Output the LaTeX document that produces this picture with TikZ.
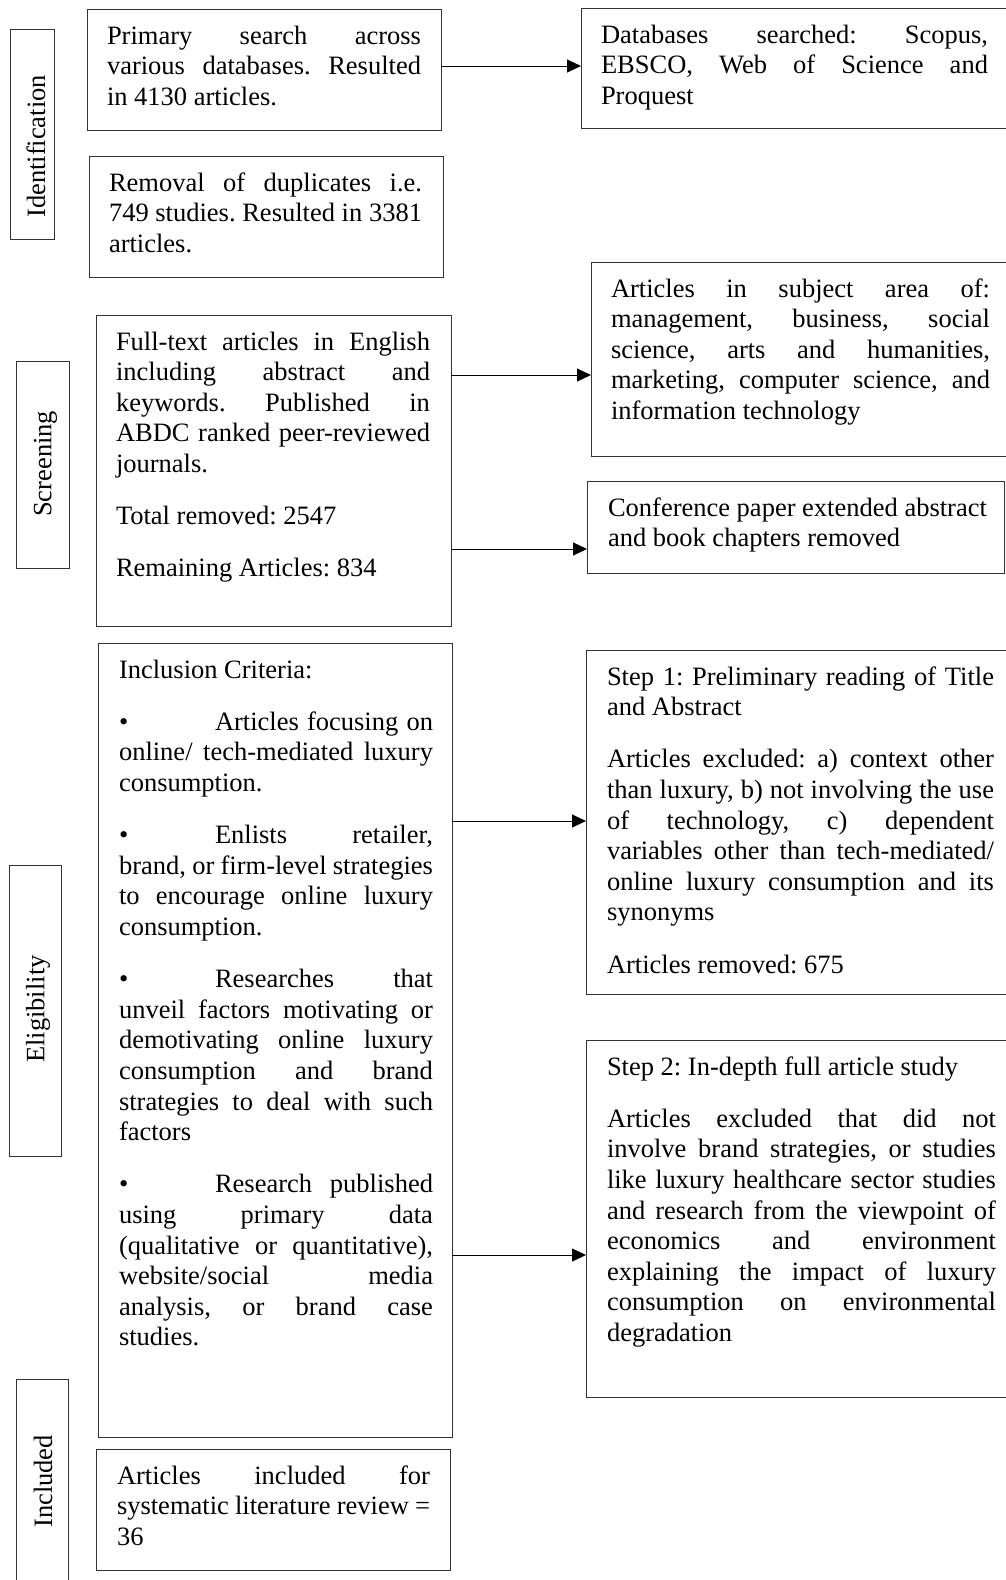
\documentclass[tikz,border=0pt]{standalone}
\usepackage{fontspec}
\setmainfont{Liberation Serif}
\usetikzlibrary{arrows.meta}

\newcommand\tf{\fontsize{26.5}{30.65}\selectfont\frenchspacing}
\newdimen\padx
\newdimen\tw
\newcommand\jl[1]{\moveright\padx\hbox to \tw{\frenchspacing\spaceskip=0pt plus 1fil\xspaceskip=0pt plus 1fil\relax #1}}
\newcommand\nl[1]{\moveright\padx\hbox{\frenchspacing #1}}
\newcommand\gap{\vskip 21.4pt}
\newcommand\bul{\makebox[96pt][l]{\textbullet}}
\newcommand\bxt[5]{\vbox to #2{\hrule height0pt depth0pt width #1\relax\padx=#3\relax\tw=#4\relax\vskip 4.35pt\prevdepth=0pt #5\vfil}}

\tikzset{
  box/.style={draw=black!80, line width=1pt, anchor=north west, inner sep=0pt, outer sep=0pt, font=\tf},
  lbl/.style={draw=black!80, line width=1pt, anchor=north west, inner sep=0pt, outer sep=0pt},
  lt/.style={rotate=90, anchor=base west, inner sep=0pt, font=\tf},
  arr/.style={draw=black, line width=1pt, -{Triangle[length=14pt,width=13pt]}}
}

\begin{document}
\begin{tikzpicture}[x=1pt,y=-1pt]
\useasboundingbox (0,0) rectangle (1006,1580);
\clip (0,0) rectangle (1006,1580);
\fill[white] (0,0) rectangle (1006,1580);

% phase labels
\node[lbl, minimum width=44pt, minimum height=210pt] (idl) at (10,29) {};
\node[lt] (idt) at (45,218) {Identification};
\node[lbl, minimum width=53pt, minimum height=207pt] (scl) at (16,361) {};
\node[lt] (sct) at (51.3,517) {Screening};
\node[lbl, minimum width=52pt, minimum height=291pt] (ell) at (9,865) {};
\node[lt] (elt) at (44.3,1063) {Eligibility};
\node[lbl, minimum width=52pt, minimum height=230pt] (inl) at (16,1379) {};
\node[lt] (int) at (52,1528) {Included};

% left column
\node[box] (b1) at (87,9) {\bxt{354pt}{121pt}{20pt}{314pt}{%
  \jl{Primary search across}
  \jl{various databases. Resulted}
  \nl{in 4130 articles.}}};

\node[box] (b2) at (89,156) {\bxt{354pt}{121pt}{20pt}{313pt}{%
  \jl{Removal of duplicates i.e.}
  \jl{749 studies. Resulted in 3381}
  \nl{articles.}}};

\node[box] (b3) at (96,315) {\bxt{355pt}{311pt}{20pt}{314pt}{%
  \jl{Full-text articles in English}
  \jl{including abstract and}
  \jl{keywords. Published in}
  \jl{ABDC ranked peer-reviewed}
  \nl{journals.}
  \gap
  \nl{Total removed: 2547}
  \gap
  \nl{Remaining Articles: 834}}};

\node[box] (inc) at (98,643) {\bxt{354pt}{794pt}{21pt}{314pt}{%
  \nl{Inclusion Criteria:}
  \gap
  \jl{\bul Articles focusing on}
  \jl{online/ tech-mediated luxury}
  \nl{consumption.}
  \gap
  \jl{\bul Enlists retailer,}
  \jl{brand, or firm-level strategies}
  \jl{to encourage online luxury}
  \nl{consumption.}
  \gap
  \jl{\bul Researches that}
  \jl{unveil factors motivating or}
  \jl{demotivating online luxury}
  \jl{consumption and brand}
  \jl{strategies to deal with such}
  \nl{factors}
  \gap
  \jl{\bul Research published}
  \jl{using primary data}
  \jl{(qualitative or quantitative),}
  \jl{website/social media}
  \jl{analysis, or brand case}
  \nl{studies.}}};

\node[box] (fin) at (96,1449) {\bxt{354pt}{121pt}{21pt}{313pt}{%
  \jl{Articles included for}
  \jl{systematic literature review =}
  \nl{36}}};

% right column
\node[box] (db) at (581,8) {\bxt{440pt}{120pt}{20pt}{387pt}{%
  \jl{Databases searched: Scopus,}
  \jl{EBSCO, Web of Science and}
  \nl{Proquest}}};

\node[box] (subj) at (591,262) {\bxt{430pt}{194pt}{20pt}{379pt}{%
  \jl{Articles in subject area of:}
  \jl{management, business, social}
  \jl{science, arts and humanities,}
  \jl{marketing, computer science, and}
  \nl{information technology}}};

\node[box] (conf) at (587,481) {\bxt{417pt}{92pt}{21pt}{376pt}{%
  \nl{Conference paper extended abstract}
  \nl{and book chapters removed}}};

\node[box] (s1) at (586,650) {\bxt{440pt}{344pt}{21pt}{387pt}{%
  \jl{Step 1: Preliminary reading of Title}
  \nl{and Abstract}
  \gap
  \jl{Articles excluded: a) context other}
  \jl{than luxury, b) not involving the use}
  \jl{of technology, c) dependent}
  \jl{variables other than tech-mediated/}
  \jl{online luxury consumption and its}
  \nl{synonyms}
  \gap
  \nl{Articles removed: 675}}};

\node[box] (s2) at (586,1040) {\bxt{440pt}{357pt}{21pt}{389pt}{%
  \nl{Step 2: In-depth full article study}
  \gap
  \jl{Articles excluded that did not}
  \jl{involve brand strategies, or studies}
  \jl{like luxury healthcare sector studies}
  \jl{and research from the viewpoint of}
  \jl{economics and environment}
  \jl{explaining the impact of luxury}
  \jl{consumption on environmental}
  \nl{degradation}}};

% connectors
\draw[arr] (b1.east |- 0,66) -- (db.west |- 0,66);
\draw[arr] (b3.east |- 0,375) -- (subj.west |- 0,375);
\draw[arr] (b3.east |- 0,549) -- (conf.west |- 0,549);
\draw[arr] (inc.east |- 0,821) -- (s1.west |- 0,821);
\draw[arr] (inc.east |- 0,1255) -- (s2.west |- 0,1255);
\end{tikzpicture}
\end{document}
